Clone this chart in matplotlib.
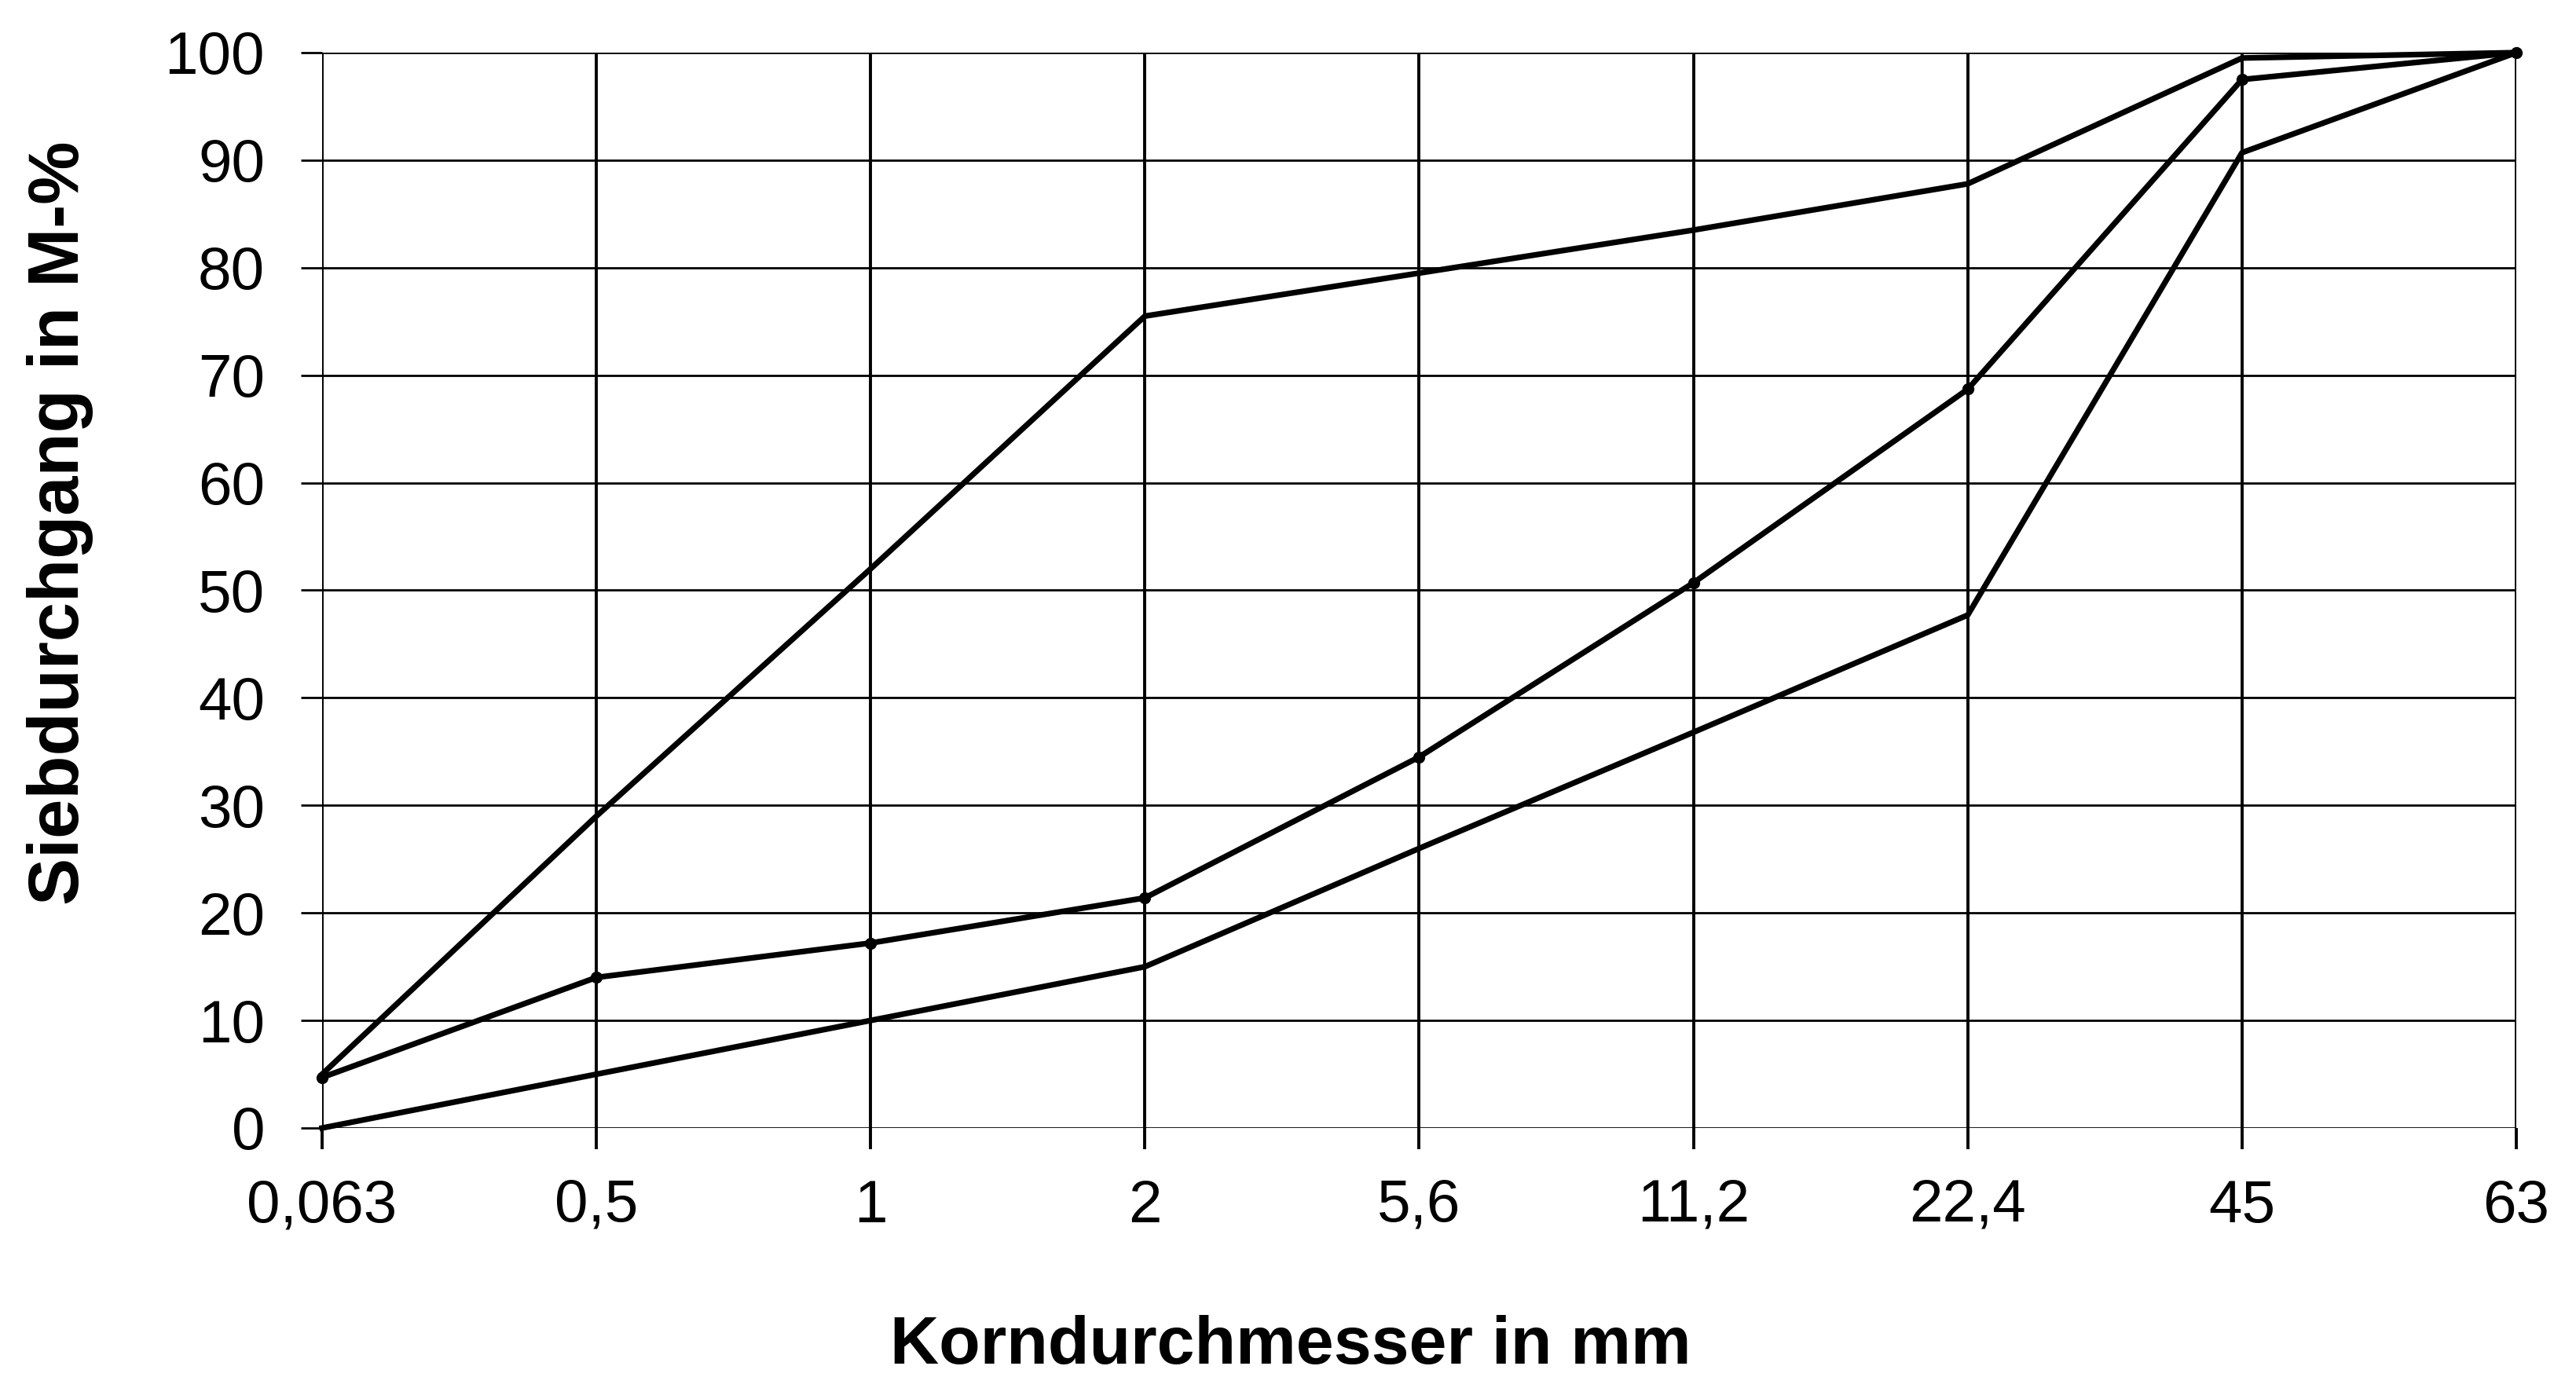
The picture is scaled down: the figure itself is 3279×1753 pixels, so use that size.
import matplotlib
matplotlib.use("Agg")
import matplotlib.pyplot as plt

# ---- data ----
sieve_labels = ["0,063", "0,5", "1", "2", "5,6", "11,2", "22,4", "45", "63"]
upper_limit = [5, 29, 52, 75.5, 79.5, 83.5, 87.8, 99.5, 100]
grading = [4.7, 14, 17.2, 21.4, 34.5, 50.7, 68.7, 97.5, 100]
lower_limit = [0, 5, 10, 15, 26, 36.8, 47.7, 90.7, 100]
y_ticks = [0, 10, 20, 30, 40, 50, 60, 70, 80, 90, 100]

plt.rcParams["font.family"] = ["Liberation Sans", "DejaVu Sans"]

fig = plt.figure(figsize=(32.8, 17.53), dpi=100)
L, R, T, B = 410, 3203, 67, 1436
W, H = 3280, 1753
ax = fig.add_axes([L / W, 1 - B / H, (R - L) / W, (B - T) / H])

x = list(range(len(sieve_labels)))
lw_data = 5.2
ax.plot(x, upper_limit, color="black", lw=lw_data, clip_on=False, zorder=3)
ax.plot(x, lower_limit, color="black", lw=lw_data, clip_on=False, zorder=3)
ax.plot(x, grading, color="black", lw=lw_data, marker="o", ms=10,
        clip_on=False, zorder=4)

ax.set_xlim(0, len(sieve_labels) - 1)
ax.set_ylim(0, 100)
ax.set_xticks(x)
ax.set_xticklabels(sieve_labels)
ax.set_yticks(y_ticks)
ax.set_yticklabels([str(v) for v in y_ticks])

for s in ax.spines.values():
    s.set_visible(False)

ax.xaxis.grid(True, color="black", lw=2.8)
ax.yaxis.grid(True, color="black", lw=2.0)
ax.set_axisbelow(True)
ax.tick_params(axis="both", direction="out", length=19.5,
               color="black", labelsize=55, labelcolor="black")
ax.tick_params(axis="x", width=2.8, pad=27)
ax.tick_params(axis="y", width=2.0, pad=33)

ax.set_xlabel("Korndurchmesser in mm", fontsize=62, fontweight="bold")
ax.xaxis.set_label_coords(0.4413, -0.174)
ax.set_ylabel("Siebdurchgang in M-%", fontsize=65, fontweight="bold")
ax.yaxis.set_label_coords(-0.1042, 0.5625)

fig.savefig("out.png", dpi=100, facecolor="white")
